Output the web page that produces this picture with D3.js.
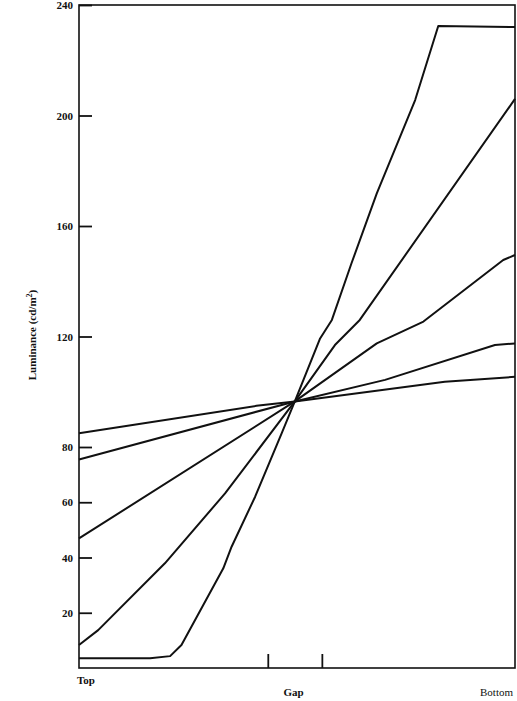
<!DOCTYPE html>
<html>
<head>
<meta charset="utf-8">
<script src="https://cdn.jsdelivr.net/npm/d3@7"></script>
<style>
  body { margin: 0; background: #fff; }
  svg text { font-family: "Liberation Serif", "DejaVu Serif", serif; fill: #111; }
</style>
</head>
<body>
<svg width="517" height="701"></svg>
<script>
// position along the display: 0 = Top, 100 = Bottom
var pos1 = [0, 40.7, 49.5, 83.9, 100],
    lum1 = [85.0, 94.9, 96.5, 103.6, 105.4];
var pos2 = [0, 49.5, 70.2, 95.4, 100],
    lum2 = [75.5, 96.5, 104.3, 116.9, 117.5];
var pos3 = [0, 49.5, 68.3, 79, 97.3, 100],
    lum3 = [46.9, 96.5, 117.5, 125.4, 147.7, 149.5];
var pos4 = [0, 4.4, 19.7, 33.5, 49.5, 58.7, 64.4, 100],
    lum4 = [8.3, 13.7, 37.9, 63.2, 96.5, 116.9, 126, 206];
var pos5 = [0, 16.3, 20.9, 23.5, 33.1, 35.0, 40.4, 46.5, 49.5, 55.3, 58, 62.5, 68.3, 77.1, 82.4, 100],
    lum5 = [3.5, 3.5, 4.3, 8.3, 36.1, 43.9, 62, 85, 96.5, 119.3, 126, 146.5, 171.8, 205.6, 232.4, 232];

var yTicks = [20, 40, 60, 80, 120, 160, 200, 240];
var gapTicks = [43.3, 55.7];
var xLabels = ["Top", "Gap", "Bottom"];
var yTitle = "Luminance (cd/m";

// Setup the size and such
var svg = d3.select("svg"),
    margin = {top: 5, right: 2, bottom: 33, left: 79},
    width = +svg.attr("width") - margin.left - margin.right,
    height = +svg.attr("height") - margin.top - margin.bottom;

var g = svg.append("g")
  .attr("transform", "translate(" + margin.left + "," + margin.top + ")");

var xScale = d3.scaleLinear().domain([0, 100]).range([0, width]);
var yScale = d3.scaleLinear().domain([0, 240]).range([height, 0]);

// frame
g.append("rect")
  .attr("width", width)
  .attr("height", height)
  .attr("fill", "none")
  .attr("stroke", "#111")
  .attr("stroke-width", 1.6);

// y axis, ticks pointing inward
var gY = g.append("g")
  .call(d3.axisLeft(yScale).tickValues(yTicks).tickSize(-13).tickPadding(6));
gY.select(".domain").remove();
gY.selectAll(".tick line").attr("stroke", "#111").attr("stroke-width", 1.8);
gY.selectAll(".tick text")
  .style("font-family", "'Liberation Serif', serif")
  .style("font-weight", "bold")
  .style("font-size", "11px");

// gap ticks on the bottom edge
var gX = g.append("g")
  .attr("transform", "translate(0," + height + ")")
  .call(d3.axisBottom(xScale).tickValues(gapTicks).tickSize(-14).tickFormat(""));
gX.select(".domain").remove();
gX.selectAll(".tick line").attr("stroke", "#111").attr("stroke-width", 1.8);

// x labels
g.append("text").attr("x", xScale(0) - 2).attr("y", height + 16)
  .attr("text-anchor", "start").style("font-weight", "bold").style("font-size", "11px")
  .text(xLabels[0]);
g.append("text").attr("x", xScale(49.2)).attr("y", height + 28)
  .attr("text-anchor", "middle").style("font-weight", "bold").style("font-size", "11px")
  .text(xLabels[1]);
g.append("text").attr("x", xScale(100) - 2).attr("y", height + 28)
  .attr("text-anchor", "end").style("font-size", "11px")
  .text(xLabels[2]);

// y title
var yt = svg.append("text")
  .attr("transform", "translate(36,335) rotate(-90)")
  .attr("text-anchor", "middle")
  .style("font-weight", "bold")
  .style("font-size", "11px");
yt.append("tspan").text(yTitle);
yt.append("tspan").attr("dy", "-4").style("font-size", "8px").text("2");
yt.append("tspan").attr("dy", "4").text(")");

// curves
var series = [[pos1, lum1], [pos2, lum2], [pos3, lum3], [pos4, lum4], [pos5, lum5]];
var line = d3.line()
  .x(function(d) { return xScale(d[0]); })
  .y(function(d) { return yScale(d[1]); });

g.selectAll("path.curve")
  .data(series.map(function(s) { return d3.zip(s[0], s[1]); }))
  .enter().append("path")
  .attr("class", "curve")
  .attr("d", line)
  .attr("fill", "none")
  .attr("stroke", "#111")
  .attr("stroke-width", 2)
  .attr("stroke-linejoin", "round");
</script>
</body>
</html>
